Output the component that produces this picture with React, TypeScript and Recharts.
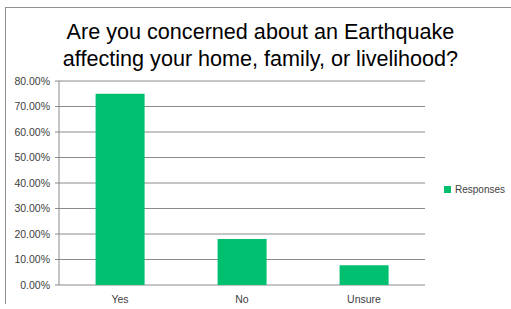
import { BarChart, Bar, XAxis, YAxis, CartesianGrid } from 'recharts';

const categories = ['Yes', 'No', 'Unsure'];
const responses = [0.75, 0.18, 0.077];
const yTicks = [0, 0.1, 0.2, 0.3, 0.4, 0.5, 0.6, 0.7, 0.8];
const edgeTicks = [0, 1, 2, 3];

const data = categories.map((c, i) => ({ name: c, Responses: responses[i] }));

const GREEN = '#00BF6F';
const GRID = '#8a8a8a';
const FONT = '"Liberation Sans", Arial, sans-serif';

export default function App() {
  return (
    <div style={{ position: 'fixed', left: 0, top: 0, width: 511, height: 309, background: '#fff' }}>
      <div
        style={{
          position: 'absolute',
          left: 5,
          top: 7,
          width: 506,
          height: 296,
          borderTop: '1px solid #909090',
          borderLeft: '1px solid #909090',
        }}
      />
      <div
        style={{
          position: 'absolute',
          left: 0,
          top: 18,
          width: 521,
          textAlign: 'center',
          fontFamily: FONT,
          fontSize: 21.6,
          lineHeight: '27px',
          color: '#000',
        }}
      >
        Are you concerned about an Earthquake
        <br />
        affecting your home, family, or livelihood?
      </div>
      <div style={{ position: 'absolute', left: 0, top: 0 }}>
        <BarChart
          width={511}
          height={309}
          data={data}
          margin={{ top: 81, right: 86, left: 0, bottom: 4 }}
          barCategoryGap="30%"
        >
          <CartesianGrid horizontal vertical={false} stroke={GRID} strokeWidth={1} />
          <XAxis
            xAxisId="edge"
            type="number"
            domain={[0, 3]}
            ticks={edgeTicks}
            height={0}
            axisLine={{ stroke: GRID }}
            tickLine={{ stroke: GRID }}
            tickSize={4}
            tickFormatter={() => ''}
          />
          <XAxis
            xAxisId="cat"
            dataKey="name"
            height={20}
            axisLine={false}
            tickLine={false}
            tickSize={0}
            tickMargin={11}
            tick={{ fontFamily: FONT, fontSize: 10.5, fill: '#404040' }}
          />
          <YAxis
            width={59}
            domain={[0, 0.8]}
            ticks={yTicks}
            interval={0}
            axisLine={{ stroke: GRID }}
            tickLine={{ stroke: GRID }}
            tickSize={4}
            tickMargin={5}
            tickFormatter={(v: number) => `${(v * 100).toFixed(2)}%`}
            tick={{ fontFamily: FONT, fontSize: 10.5, fill: '#404040' }}
          />
          <Bar xAxisId="cat" dataKey="Responses" fill={GREEN} isAnimationActive={false} />
        </BarChart>
      </div>
      <div
        style={{
          position: 'absolute',
          left: 444,
          top: 184,
          display: 'flex',
          alignItems: 'center',
          fontFamily: FONT,
          fontSize: 10,
          color: '#404040',
        }}
      >
        <span style={{ width: 7, height: 7, background: GREEN, marginRight: 4, display: 'inline-block' }} />
        Responses
      </div>
    </div>
  );
}
